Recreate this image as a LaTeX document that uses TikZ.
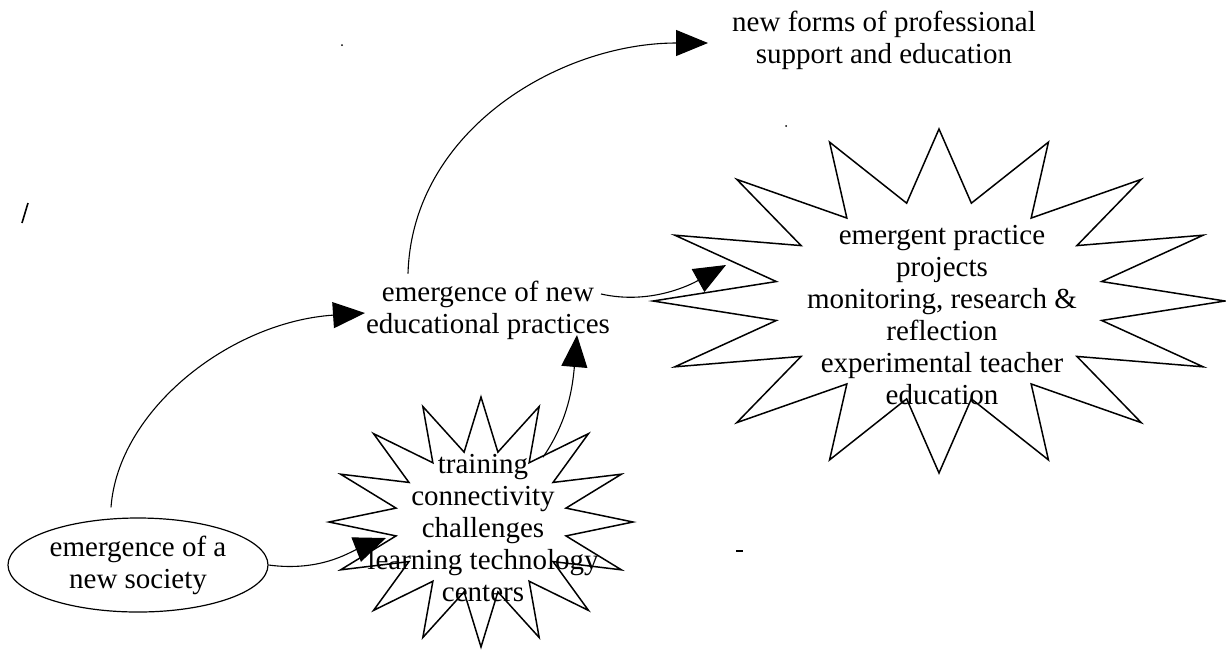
\documentclass[tikz,border=0pt]{standalone}
\usepackage{fontspec}
\setmainfont{Liberation Serif}
\usetikzlibrary{arrows.meta,calc,shapes.geometric}
\newcommand{\burstshape}[5]{% cx, cy, rx, ry, ratio
  \draw[burstline] ({#1+#3},{#2})
    \foreach \k [evaluate=\k as \a using {\k*11.25},
                 evaluate=\k as \r using {1-(1-#5)*mod(\k,2)}] in {1,...,31}
    { -- ({#1+\r*#3*cos(\a)},{#2+\r*#4*sin(\a)}) } -- cycle;}
\begin{document}
\begin{tikzpicture}[x=0.5pt,y=-0.5pt,
  lbl/.style={align=center,font=\fontsize{14.5}{16}\selectfont},
  burstline/.style={line width=0.75pt,line join=miter},
  conn/.style={line width=0.55pt,-{Triangle[length=16pt,width=13pt]}},
  speck/.style={line width=0.8pt}]
\useasboundingbox (0,0) rectangle (1226,650);
% bursts
\burstshape{481}{522}{152}{125}{0.57}
\burstshape{939}{301}{286}{172}{0.58}
% nodes
\node[lbl,draw,ellipse,line width=0.6pt,minimum width=130pt,minimum height=47pt,inner sep=0pt] (society) at (138,565) {emergence of a\\new society};
\node[lbl] (practices) at (488,310) {emergence of new\\educational practices};
\node[lbl] (newforms) at (884,40) {new forms of professional\\support and education};
\node[lbl] (training) at (483,528) {training\\connectivity\\challenges\\learning technology\\centers};
\node[lbl] (emergent) at (942,315) {emergent practice\\projects\\monitoring, research \&\\reflection\\experimental teacher\\education};
% arrow tips
\coordinate (tipTraining) at (386,538);
\coordinate (tipPractices) at (365,313);
\coordinate (tipNewforms) at (708,43);
\coordinate (tipEmergent) at (726,265);
\coordinate (tipUp) at (577,335);
% connectors
\draw[conn] (society.east) .. controls (320,572) and (350,552) .. (tipTraining);
\draw[conn] ([xshift=-13.5pt,yshift=5pt]society.north) .. controls (118,410) and (230,322) .. (tipPractices);
\draw[conn] ([xshift=-40pt]practices.north) .. controls (412,130) and (560,43) .. (tipNewforms);
\draw[conn] ([xshift=-8pt,yshift=8pt]practices.east) .. controls (650,305) and (690,285) .. (tipEmergent);
\draw[conn] ([xshift=30pt,yshift=-5pt]training.north) .. controls (565,425) and (572,395) .. (tipUp);
% specks from the scan
\draw[speck] (28,203) -- (25,213) -- (22,223);
\draw[speck] (736,551) -- (743,551);
\fill (342,45) circle (1);
\fill (786,126) circle (1);
\end{tikzpicture}
\end{document}
